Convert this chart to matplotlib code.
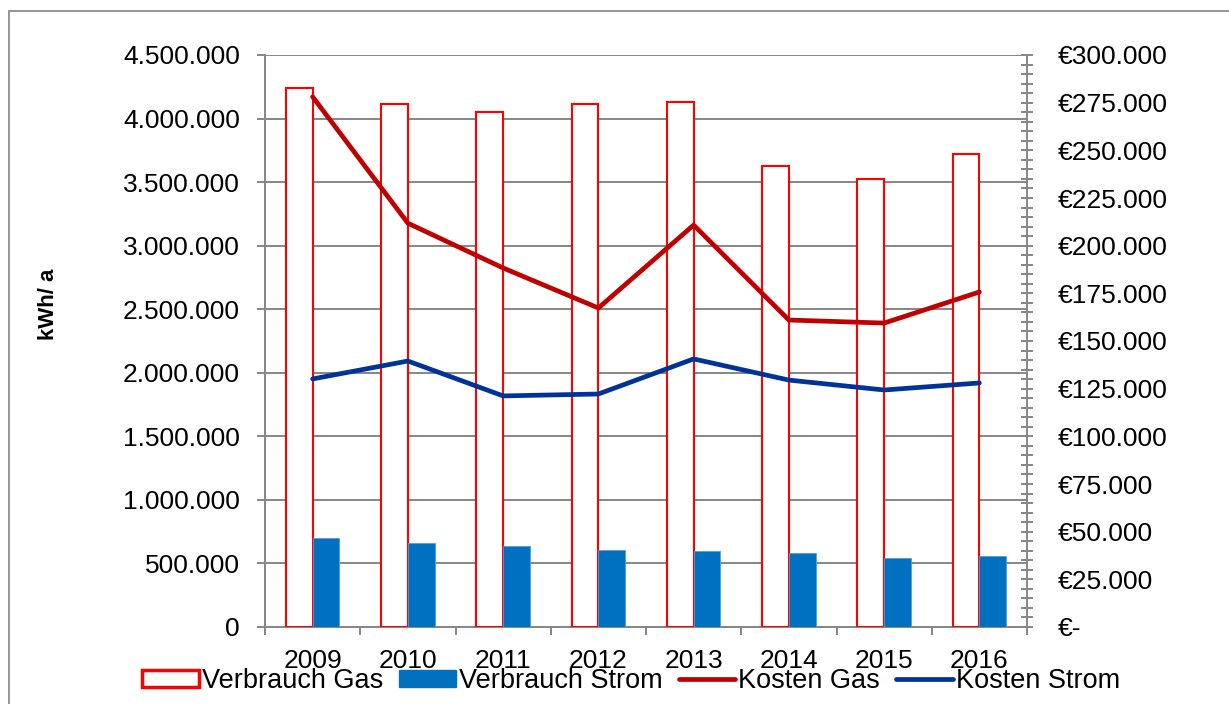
import matplotlib
matplotlib.use("Agg")
import matplotlib.pyplot as plt
import numpy as np
from matplotlib.ticker import FuncFormatter, MultipleLocator, FixedLocator
from matplotlib.patches import Rectangle
from matplotlib.lines import Line2D

plt.rcParams['font.family'] = ['Liberation Sans', 'DejaVu Sans']

years = ["2009", "2010", "2011", "2012", "2013", "2014", "2015", "2016"]
verbrauch_gas = [4243000, 4115000, 4055000, 4115000, 4130000, 3627000, 3524000, 3721000]
verbrauch_strom = [700000, 661000, 637000, 606000, 598000, 582000, 543000, 559000]
kosten_gas = [278100, 211800, 188300, 167300, 210800, 161000, 159400, 175700]
kosten_strom = [130100, 139500, 121200, 122200, 140600, 129500, 124300, 128000]

W, H = 1229, 704
fig = plt.figure(figsize=(W / 100, H / 100), dpi=100)
fig.patch.set_facecolor('white')

# outer frame (only top/left visible)
fig.add_artist(Rectangle((9 / W, -0.1), 1.2, 1 - 11 / H + 0.1, transform=fig.transFigure,
                         fill=False, edgecolor='#8c8c8c', linewidth=1.3))

L, R, T, B = 265, 1027, 55, 627
ax = fig.add_axes([L / W, 1 - B / H, (R - L) / W, (B - T) / H])
ax2 = ax.twinx()

x = np.arange(len(years))
bw = 0.28
grey = '#868686'

ax.bar(x - bw / 2, verbrauch_gas, width=bw, facecolor='white', edgecolor='#ff0000',
       linewidth=1.5, zorder=3, label='Verbrauch Gas')
ax.bar(x + bw / 2, verbrauch_strom, width=bw, color='#0070c0', edgecolor='#5b9bd5',
       linewidth=0.6, zorder=3, label='Verbrauch Strom')

ax2.plot(x, kosten_gas, color='#c00000', linewidth=3.4, solid_capstyle='round',
         solid_joinstyle='miter', zorder=4)
ax2.plot(x, kosten_strom, color='#003399', linewidth=3.4, solid_capstyle='round',
         solid_joinstyle='miter', zorder=4)

ax.set_xlim(-0.5, len(years) - 0.5)
ax.set_ylim(0, 4500000)
ax2.set_ylim(0, 300000)

ax.yaxis.set_major_locator(MultipleLocator(500000))
ax.yaxis.set_major_formatter(FuncFormatter(lambda v, p: f"{int(round(v)):,}".replace(",", ".")))
ax.grid(axis='y', color=grey, linewidth=1.4, zorder=0)
ax.set_axisbelow(True)

ax.xaxis.set_major_locator(FixedLocator(np.arange(-0.5, len(years), 1.0)))
ax.xaxis.set_major_formatter(FuncFormatter(lambda v, p: ""))
ax.xaxis.set_minor_locator(FixedLocator(x))
ax.set_xticklabels(years, minor=True)
ax.tick_params(axis='x', which='major', direction='out', length=6, width=1.4, color=grey)
ax.tick_params(axis='x', which='minor', length=0, pad=16, labelsize=19)
ax.tick_params(axis='y', direction='out', length=6, width=1.4, color=grey, pad=12, labelsize=19)

def euro(v, p):
    if abs(v) < 1:
        return "€-"
    return "€" + f"{int(round(v)):,}".replace(",", ".")

ax2.yaxis.set_major_locator(MultipleLocator(25000))
ax2.yaxis.set_minor_locator(MultipleLocator(5000))
ax2.yaxis.set_major_formatter(FuncFormatter(euro))
ax2.tick_params(axis='y', which='major', direction='inout', length=9, width=1.4, color=grey,
                pad=18, labelsize=19)
ax2.tick_params(axis='y', which='minor', direction='inout', length=8, width=1.4, color=grey)

for a in (ax, ax2):
    a.spines['top'].set_visible(False)
    for s in ('left', 'right', 'bottom'):
        a.spines[s].set_color(grey)
        a.spines[s].set_linewidth(1.4)
ax.spines['right'].set_visible(False)
ax2.spines['left'].set_visible(False)
ax2.spines['bottom'].set_visible(False)

fig.text(49 / W, 1 - 304 / H, "kWh/ a", rotation=90, ha='center', va='center',
         fontsize=16, fontweight='bold')

handles = [
    Rectangle((0, 0), 1, 1, facecolor='white', edgecolor='#ff0000', linewidth=2.5),
    Rectangle((0, 0), 1, 1, facecolor='#0070c0', edgecolor='#0070c0'),
    Line2D([0], [0], color='#c00000', linewidth=3.4, solid_capstyle='round'),
    Line2D([0], [0], color='#003399', linewidth=3.4, solid_capstyle='round'),
]
labels = ['Verbrauch Gas', 'Verbrauch Strom', 'Kosten Gas', 'Kosten Strom']
fig.legend(handles, labels, loc='center', bbox_to_anchor=(631 / W, 1 - 681 / H), ncol=4,
           frameon=False, fontsize=19.5, handlelength=2.1, handleheight=0.6,
           handletextpad=0.1, columnspacing=0.6, borderpad=0, borderaxespad=0)

fig.savefig("out.png", dpi=100, facecolor='white')
